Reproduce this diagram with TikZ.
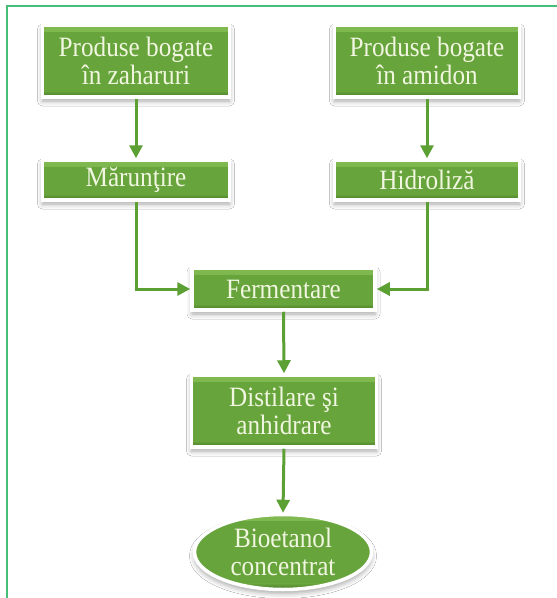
\documentclass[tikz,border=0pt]{standalone}
\usepackage{fontspec}
\setmainfont{Liberation Serif}[FakeStretch=0.9]
\usetikzlibrary{arrows.meta,shapes.geometric,shadows.blur}
\definecolor{gtop}{RGB}{128,186,80}
\definecolor{gmid}{RGB}{104,164,60}
\definecolor{gbot}{RGB}{70,120,38}
\definecolor{arrowgreen}{RGB}{92,160,52}
\definecolor{textcream}{RGB}{240,246,224}
\definecolor{framegreen}{RGB}{70,190,120}
\tikzset{
  stepbox/.style={rectangle, draw=white, line width=3.5pt, fill=gmid,
    text=textcream, align=center, inner sep=0pt,
    font=\fontsize{28}{28}\selectfont,
    path picture={
      % bevel: light upper edge, dark lower edge
      \shade[top color=gtop, bottom color=gmid]
        (path picture bounding box.north west) rectangle
        ([yshift=-6pt]path picture bounding box.north east);
      \shade[top color=gmid, bottom color=gbot]
        ([yshift=6pt]path picture bounding box.south west) rectangle
        (path picture bounding box.south east);
    },
    blur shadow={shadow xshift=0pt, shadow yshift=-4pt,
      shadow blur radius=5pt, shadow opacity=35}},
  endbox/.style={stepbox, ellipse},
  flow/.style={draw=arrowgreen, line width=3pt,
    -{Triangle[width=13pt,length=13pt]}}
}
\begin{document}
\begin{tikzpicture}[x=1pt,y=-1pt]
\useasboundingbox (0,0) rectangle (557,598);
\fill[white] (0,0) rectangle (557,598);
% frame edges
\draw[framegreen, line width=1.5pt] (7,598) -- (7,6) -- (557,6);

% process steps
\node[stepbox, minimum width=187, minimum height=72] (zah) at (136,61) {Produse bogate\\în zaharuri};
\node[stepbox, minimum width=185, minimum height=72] (ami) at (427,61) {Produse bogate\\în amidon};
\node[stepbox, minimum width=187, minimum height=40] (mar) at (136,180) {Mărunţire};
\node[stepbox, minimum width=185, minimum height=40] (hid) at (427,180) {Hidroliză};
\node[stepbox, minimum width=183, minimum height=42] (fer) at (283.5,289) {Fermentare};
\node[stepbox, minimum width=185, minimum height=72] (dis) at (284,411) {Distilare şi\\anhidrare};
\node[endbox, minimum width=177, minimum height=75] (bio) at (283,552) {Bioetanol\\concentrat};

% connectors
\draw[flow] (zah.south) -- (mar.north);
\draw[flow] (ami.south) -- (hid.north);
\draw[flow] (mar.south) |- (fer.west);
\draw[flow] (hid.south) |- (fer.east);
\draw[flow] (fer.south) -- (dis.north);
\draw[flow] (dis.south) -- (bio.north);
\end{tikzpicture}
\end{document}
